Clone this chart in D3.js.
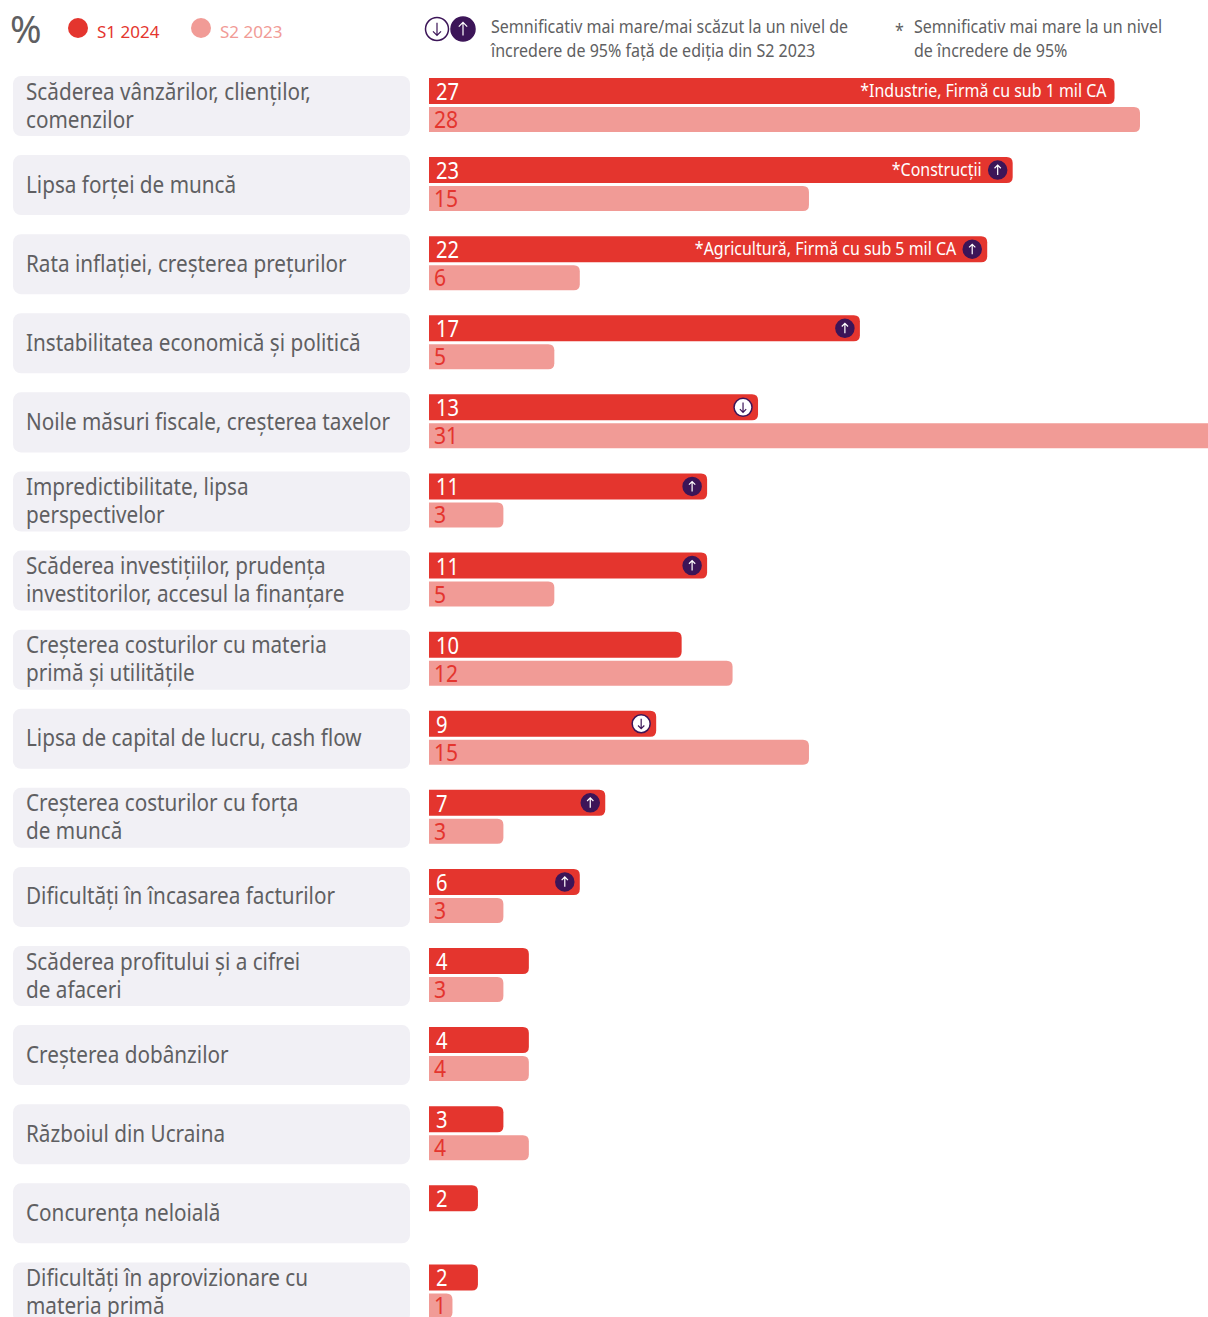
<!DOCTYPE html>
<html>
<head>
<meta charset="utf-8">
<script src="https://cdn.jsdelivr.net/npm/d3@7"></script>
<style>
  html, body { margin: 0; padding: 0; background: #fff; overflow: hidden; }
  text { font-family: "Noto Sans", sans-serif; }
</style>
</head>
<body>
<svg id="chart" width="1208" height="1317"></svg>
<script>
const categories = [
  "Scăderea vânzărilor, clienților,|comenzilor",
  "Lipsa forței de muncă",
  "Rata inflației, creșterea prețurilor",
  "Instabilitatea economică și politică",
  "Noile măsuri fiscale, creșterea taxelor",
  "Impredictibilitate, lipsa|perspectivelor",
  "Scăderea investițiilor, prudența|investitorilor, accesul la finanțare",
  "Creșterea costurilor cu materia|primă și utilitățile",
  "Lipsa de capital de lucru, cash flow",
  "Creșterea costurilor cu forța|de muncă",
  "Dificultăți în încasarea facturilor",
  "Scăderea profitului și a cifrei|de afaceri",
  "Creșterea dobânzilor",
  "Războiul din Ucraina",
  "Concurența neloială",
  "Dificultăți în aprovizionare cu|materia primă"
];
const s12024 = [27, 23, 22, 17, 13, 11, 11, 10, 9, 7, 6, 4, 4, 3, 2, 2];
const s22023 = [28, 15, 6, 5, 31, 3, 5, 12, 15, 3, 3, 3, 4, 4, null, 1];
const signif = ["", "up", "up", "up", "down", "up", "up", "", "down", "up", "up", "", "", "", "", ""];
const notes = ["*Industrie, Firmă cu sub 1 mil CA", "*Construcții", "*Agricultură, Firmă cu sub 5 mil CA", "", "", "", "", "", "", "", "", "", "", "", "", ""];

const red = "#e4352e", pink = "#f19b96", purple = "#3c1558", grey = "#5f5f62";
const barLeft = 429;

const svg = d3.select("#chart");

const x = d3.scaleLinear().domain([0, 28]).range([427, 1140]);
const y = d3.scaleBand().domain(d3.range(categories.length)).range([76, 1322.4]).paddingInner(0.2412);

// text squeezed sideways, the original face is condensed
function narrowText(g, px, py, size, fill, str, squeeze, anchor) {
  return g.append("text")
    .attr("transform", `translate(${px},${py}) scale(${squeeze},1)`)
    .attr("font-size", size)
    .attr("fill", fill)
    .attr("text-anchor", anchor || "start")
    .text(str);
}

function arrow(g, cx, cy, r, dir, fill, stroke, arrowColor) {
  g.append("circle").attr("cx", cx).attr("cy", cy).attr("r", r)
    .attr("fill", fill).attr("stroke", stroke).attr("stroke-width", 1.5);
  const s = dir === "up" ? -1 : 1;
  const a = r * 0.55, w = r * 0.35;
  g.append("path")
    .attr("d", `M${cx},${cy - s * a}L${cx},${cy + s * a}M${cx - w},${cy + s * (a - w)}L${cx},${cy + s * a}L${cx + w},${cy + s * (a - w)}`)
    .attr("fill", "none").attr("stroke", arrowColor).attr("stroke-width", 1.2);
}

// square on the left, rounded on the right
function barPath(x1, top, h) {
  const r = Math.min(6, x1 - barLeft);
  return `M${barLeft},${top}H${x1 - r}Q${x1},${top} ${x1},${top + r}V${top + h - r}Q${x1},${top + h} ${x1 - r},${top + h}H${barLeft}Z`;
}

// header
const head = svg.append("g");
head.append("text").attr("x", 10).attr("y", 43).attr("font-size", 38).attr("fill", grey).text("%");
head.append("circle").attr("cx", 78).attr("cy", 28).attr("r", 10).attr("fill", red);
head.append("text").attr("x", 97).attr("y", 38).attr("font-size", 17).attr("fill", red).text("S1 2024");
head.append("circle").attr("cx", 201).attr("cy", 28).attr("r", 10).attr("fill", pink);
head.append("text").attr("x", 220).attr("y", 38).attr("font-size", 17).attr("fill", pink).text("S2 2023");
arrow(head, 437, 29, 11.5, "down", "#fff", purple, purple);
arrow(head, 463, 29, 12, "up", purple, purple, "#fff");
narrowText(head, 491, 33, 18, grey, "Semnificativ mai mare/mai scăzut la un nivel de", 0.892);
narrowText(head, 491, 57, 18, grey, "încredere de 95% față de ediția din S2 2023", 0.892);
narrowText(head, 895, 37, 18, grey, "*", 0.892);
narrowText(head, 914, 33, 18, grey, "Semnificativ mai mare la un nivel", 0.892);
narrowText(head, 914, 57, 18, grey, "de încredere de 95%", 0.892);

// rows
const row = svg.selectAll(".row")
  .data(categories)
  .join("g")
  .attr("class", "row")
  .attr("transform", (d, i) => `translate(0,${y(i)})`);

row.append("rect")
  .attr("x", 13).attr("y", 0)
  .attr("width", 397).attr("height", y.bandwidth())
  .attr("rx", 8)
  .attr("fill", "#f1f0f5");

row.each(function(d, i) {
  const g = d3.select(this);
  const lines = d.split("|");
  const base = lines.length > 1 ? 23.5 : 37.5;
  lines.forEach((l, k) => narrowText(g, 26, base + k * 28, 23, grey, l, 0.9));

  g.append("path").attr("d", barPath(x(s12024[i]), 2, 26)).attr("fill", red);
  narrowText(g, 436, 24, 24, "#fff", s12024[i], 0.84);

  if (s22023[i] !== null) {
    g.append("path").attr("d", barPath(x(s22023[i]), 31, 25)).attr("fill", pink);
    narrowText(g, 434, 52, 24, red, s22023[i], 0.88);
  }

  const end = x(s12024[i]);
  if (signif[i]) {
    if (signif[i] === "up") arrow(g, end - 15, 15, 9, "up", purple, purple, "#fff");
    else arrow(g, end - 15, 15, 9, "down", "#fff", purple, purple);
  }
  if (notes[i]) {
    narrowText(g, end - (signif[i] ? 31 : 8), 21, 18, "#fff", notes[i], 0.887, "end");
  }
});
</script>
</body>
</html>
